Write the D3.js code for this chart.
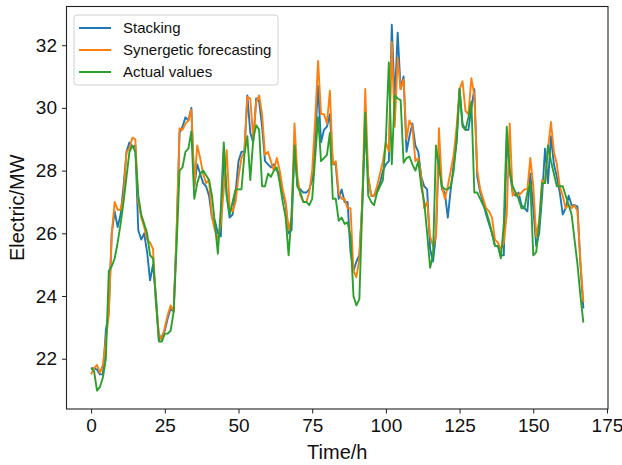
<!DOCTYPE html>
<html>
<head>
<meta charset="utf-8">
<script src="https://cdn.jsdelivr.net/npm/d3@7"></script>
<style>
  body { margin: 0; background: #fff; }
  svg { font-family: "Liberation Sans", Arial, sans-serif; }
</style>
</head>
<body>
<script>
const stacking = [
  21.7, 21.7, 21.65, 21.5, 21.5, 22.9, 23.5, 26.0, 26.7, 26.2,
  26.6, 27.5, 28.6, 28.9, 28.75, 28.8, 26.1, 25.8, 26.0, 25.4,
  24.5, 25.0, 24.0, 22.6, 22.7, 22.9, 23.3, 23.6, 23.5, 26.0,
  29.2, 29.4, 29.7, 29.6, 30.0, 27.5, 28.2, 27.9, 27.6, 27.5,
  27.2, 26.5, 26.4, 26.0, 25.9, 28.6, 27.2, 26.5, 26.6, 27.3,
  28.3, 28.6, 28.6, 30.4, 29.2, 28.9, 30.3, 30.2, 29.4, 28.3,
  28.2, 28.1, 28.2, 28.0, 27.9, 27.3, 26.9, 26.0, 26.1, 28.8,
  27.5, 27.4, 27.3, 27.3, 27.4, 27.7, 29.0, 30.7, 28.9, 29.3,
  29.4, 29.8, 28.2, 28.2, 27.1, 27.4, 27.0, 27.0, 25.4, 24.8,
  25.1, 25.3, 27.0, 29.4, 27.8, 27.2, 27.2, 27.4, 27.6, 28.0,
  28.2, 28.3, 32.65, 30.2, 32.4, 30.6, 31.0, 28.6, 29.1, 29.5,
  28.8, 28.6, 27.8, 27.5, 27.4, 25.5, 25.1, 26.0, 28.7, 27.4,
  27.3, 26.5, 27.4, 28.2, 28.9, 30.6, 29.5, 29.3, 29.3, 30.0,
  30.6, 27.8, 27.3, 27.0, 26.6, 26.3, 26.0, 25.6, 25.6, 25.3,
  25.3, 29.0, 28.0, 27.3, 27.2, 27.3, 26.9, 26.8, 26.7, 27.9,
  26.8, 25.6, 26.0, 27.2, 28.7, 27.6, 29.1, 28.2, 27.8, 27.3,
  26.6, 26.8, 27.2, 26.9, 26.9, 26.85, 25.0, 23.6
];

const synergetic = [
  21.5, 21.7, 21.8, 21.55, 21.8, 22.6, 23.4, 26.0, 27.0, 26.75,
  26.75, 27.2, 28.6, 28.7, 29.05, 29.0, 27.0, 26.5, 26.2, 25.8,
  25.7, 25.5, 23.8, 22.8, 22.6, 23.0, 23.4, 23.7, 23.5, 26.0,
  29.35, 29.3, 29.5, 29.6, 29.95, 27.5, 28.8, 28.4, 27.9, 27.6,
  27.7, 26.5, 26.1, 25.8, 26.3, 27.4, 28.65, 26.8, 26.7, 27.0,
  27.8, 28.4, 28.6, 30.35, 30.3, 29.0, 30.2, 30.4, 29.8, 28.5,
  28.6, 28.3, 28.0, 28.4, 28.0, 27.4, 27.0, 26.1, 26.5, 29.5,
  27.8, 27.2, 27.0, 27.0, 27.3, 28.0, 29.6, 31.5, 29.8, 29.8,
  29.5, 30.55, 28.2, 28.3, 27.3, 27.1, 27.1, 26.8, 26.8, 24.8,
  24.6, 25.2, 27.0, 30.6, 27.8, 27.2, 27.2, 27.5, 27.9, 28.3,
  28.9, 28.6, 32.1, 29.4, 31.6, 30.6, 30.9, 29.0, 29.6, 29.4,
  28.3, 28.4, 27.8, 26.8, 27.0, 25.9, 25.6, 25.9, 29.35, 27.5,
  27.1, 27.5, 28.0, 28.5, 29.4, 30.6, 30.85, 29.9, 29.8, 30.95,
  30.4, 28.0, 27.4, 27.1, 26.8, 26.7, 26.5, 25.8, 25.7, 25.5,
  25.7, 26.6, 29.5, 27.2, 27.3, 27.2, 27.3, 27.4, 27.4, 28.4,
  27.5, 25.9, 26.4, 27.7, 27.6, 28.7, 29.55, 28.6, 28.2, 27.5,
  27.2, 26.8, 26.9, 26.8, 26.9, 26.7, 25.1, 23.8
];

const actual = [
  21.7, 21.6, 20.98, 21.1, 21.4, 22.0, 24.8, 24.95, 25.2, 25.7,
  26.3, 27.0, 27.8, 28.6, 28.8, 28.6, 27.2, 26.6, 26.3, 26.0,
  25.3, 25.2, 23.8, 22.55, 22.55, 22.8, 22.8, 22.9, 23.5, 25.6,
  28.0, 28.1, 28.6, 28.7, 29.25, 27.1, 27.6, 27.9, 28.0, 27.85,
  27.7, 27.2, 26.3, 25.35, 26.8, 28.9, 27.2, 26.6, 27.0, 27.4,
  27.4, 27.4, 28.5, 29.1, 27.7, 29.0, 29.45, 29.3, 27.5, 27.5,
  27.9, 27.8, 28.0, 28.1, 27.6, 27.0, 26.5, 25.3, 26.6, 28.8,
  27.5, 27.3, 27.0, 27.0, 26.9, 27.1, 28.4, 29.7, 28.3, 28.4,
  28.5, 29.2, 27.1, 27.1, 26.4, 26.5, 26.3, 26.35, 25.9, 24.0,
  23.7, 23.9, 26.9, 29.85, 27.2, 27.0, 26.9, 27.3, 27.5, 27.7,
  29.0, 31.45, 28.2, 30.4, 30.3, 30.25, 28.25, 28.4, 28.45, 28.2,
  28.0, 28.3, 27.5, 27.0, 26.0, 24.9, 25.3, 28.8, 28.1, 27.5,
  27.4, 27.4, 27.5, 28.0, 29.0, 30.6, 29.4, 29.3, 29.7, 30.2,
  27.3, 27.3, 27.1, 26.9, 26.7, 26.4, 26.0, 25.6, 25.6, 25.2,
  26.3, 29.4, 28.0, 27.5, 27.3, 27.1, 26.8, 26.8, 27.3, 27.6,
  25.3, 25.4, 26.3, 27.6, 27.6, 28.8, 28.3, 27.9, 27.5, 27.5,
  27.5, 27.2, 26.9, 26.6, 25.8, 25.0, 24.0, 23.15
];

const seriesNames = ["Stacking", "Synergetic forecasting", "Actual values"];
const seriesColors = ["#1f77b4", "#ff7f0e", "#2ca02c"];
const xTicks = [0, 25, 50, 75, 100, 125, 150, 175];
const yTicks = [22, 24, 26, 28, 30, 32];

const width = 622, height = 465;
const margin = {top: 6.5, right: 14, bottom: 56, left: 66.5};

const allSeries = [stacking, synergetic, actual];
const n = actual.length;

const svg = d3.select("body").append("svg")
  .attr("width", width)
  .attr("height", height);

// matplotlib style 5% padding
const xMin = 0, xMax = n - 1;
const xPad = (xMax - xMin) * 0.05;
const yMin = d3.min(allSeries, s => d3.min(s)), yMax = d3.max(allSeries, s => d3.max(s));
const yPad = (yMax - yMin) * 0.05;

const x = d3.scaleLinear()
  .domain([xMin - xPad, xMax + xPad])
  .range([margin.left, width - margin.right]);

const y = d3.scaleLinear()
  .domain([yMin - yPad, yMax + yPad])
  .range([height - margin.bottom, margin.top]);

const line = d3.line()
  .x((d, i) => x(i))
  .y(d => y(d));

allSeries.forEach((s, k) => {
  svg.append("path")
    .datum(s)
    .attr("fill", "none")
    .attr("stroke", seriesColors[k])
    .attr("stroke-width", 1.9)
    .attr("stroke-linejoin", "round")
    .attr("d", line);
});

// axes
const xAxis = svg.append("g")
  .attr("transform", `translate(0,${height - margin.bottom})`)
  .call(d3.axisBottom(x).tickValues(xTicks).tickSize(4.5).tickPadding(5));
const yAxis = svg.append("g")
  .attr("transform", `translate(${margin.left},0)`)
  .call(d3.axisLeft(y).tickValues(yTicks).tickSize(4.5).tickPadding(5));

[xAxis, yAxis].forEach(g => {
  g.select(".domain").remove();
  g.selectAll("line").attr("stroke", "#222").attr("stroke-width", 1);
  g.selectAll("text").attr("fill", "#111").style("font-size", "19px");
});

// frame
svg.append("rect")
  .attr("x", margin.left)
  .attr("y", margin.top)
  .attr("width", width - margin.left - margin.right)
  .attr("height", height - margin.top - margin.bottom)
  .attr("fill", "none")
  .attr("stroke", "#222")
  .attr("stroke-width", 1.1);

svg.append("text")
  .attr("x", (margin.left + width - margin.right) / 2)
  .attr("y", height - 6)
  .attr("text-anchor", "middle")
  .style("font-size", "20px")
  .attr("fill", "#111")
  .text("Time/h");

svg.append("text")
  .attr("transform", `translate(24,${(margin.top + height - margin.bottom) / 2}) rotate(-90)`)
  .attr("text-anchor", "middle")
  .style("font-size", "20px")
  .attr("fill", "#111")
  .text("Electric/MW");

// legend
const legend = svg.append("g").attr("transform", "translate(74,15)");
legend.append("rect")
  .attr("width", 204)
  .attr("height", 70)
  .attr("rx", 3)
  .attr("fill", "#fff")
  .attr("fill-opacity", 0.8)
  .attr("stroke", "#d0d0d0");

seriesNames.forEach((name, k) => {
  const row = legend.append("g").attr("transform", `translate(0,${13 + k * 22})`);
  row.append("line")
    .attr("x1", 5).attr("x2", 37)
    .attr("stroke", seriesColors[k])
    .attr("stroke-width", 2);
  row.append("text")
    .attr("x", 49)
    .attr("dy", "0.35em")
    .style("font-size", "15px")
    .attr("fill", "#111")
    .text(name);
});
</script>
</body>
</html>
